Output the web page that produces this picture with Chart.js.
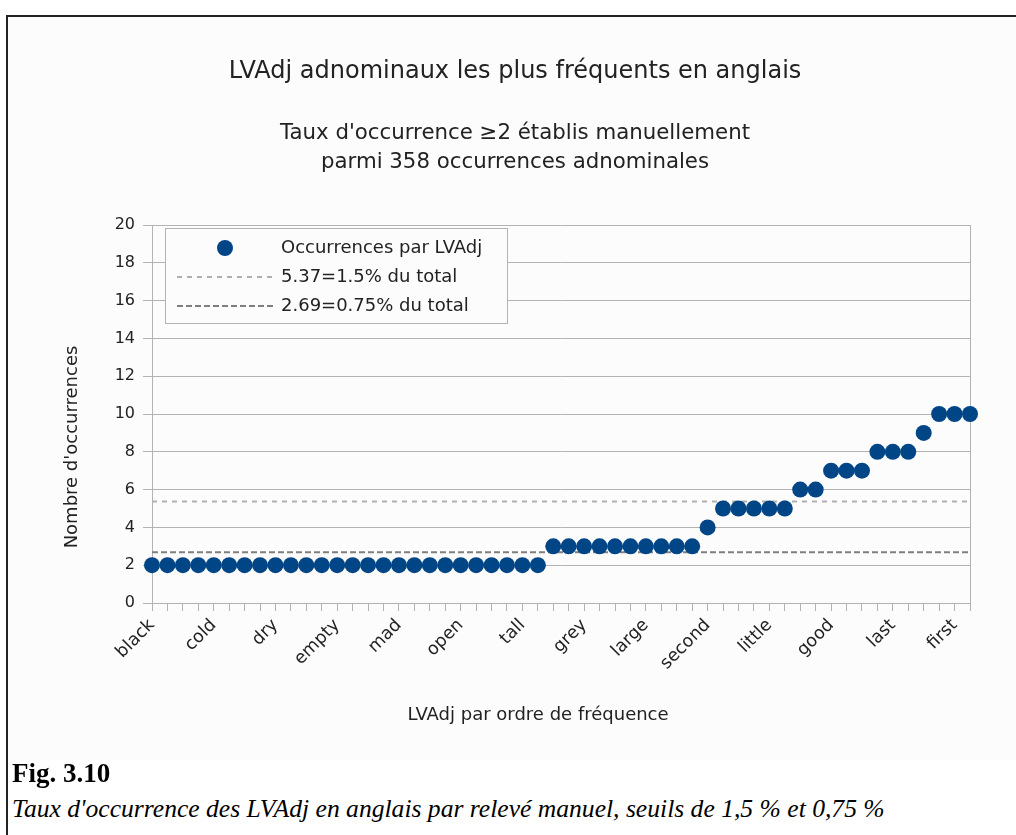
<!DOCTYPE html>
<html><head><meta charset="utf-8">
<script src="https://cdn.jsdelivr.net/npm/chart.js@4.4.1/dist/chart.umd.min.js"></script>
<style>
html,body{margin:0;padding:0;background:#fff;width:1016px;height:835px;overflow:hidden}
#frame{position:absolute;left:6px;top:15px;width:1100px;height:900px;border-left:2px solid #222;border-top:2px solid #222}
#bg{position:absolute;left:8px;top:17px;width:1008px;height:743px;background:#fcfcfc}
#c{position:absolute;left:0;top:0}
.cap{position:absolute;left:12px;font-family:"Liberation Serif","Times New Roman",serif;color:#000;white-space:nowrap}
#fig{top:758px;font-weight:bold;font-size:27px;line-height:30px}
#txt{top:794px;font-style:italic;font-size:25.6px;line-height:30px}
</style>
</head><body>
<div id="frame"></div>
<div id="bg"></div>
<canvas id="c" width="1030" height="760"></canvas>
<div class="cap" id="fig">Fig. 3.10</div>
<div class="cap" id="txt">Taux d'occurrence des LVAdj en anglais par relevé manuel, seuils de 1,5 % et 0,75 %</div>
<script>
// ---- data ----
const categories = [
  'black','','','',
  'cold','','','',
  'dry','','','',
  'empty','','','',
  'mad','','','',
  'open','','','',
  'tall','','','',
  'grey','','','',
  'large','','','',
  'second','','','',
  'little','','','',
  'good','','','',
  'last','','','',
  'first',''
];
const occurrences = [
  2,2,2,2,2,2,2,2,2,2,2,2,2,2,2,2,2,2,2,2,2,2,2,2,2,2,
  3,3,3,3,3,3,3,3,3,3,
  4,
  5,5,5,5,5,
  6,6,
  7,7,7,
  8,8,8,
  9,
  10,10,10
];
const threshold15 = 5.37;
const threshold075 = 2.69;
const seriesLabels = ['Occurrences par LVAdj', '5.37=1.5% du total', '2.69=0.75% du total'];
const chartTitle = 'LVAdj adnominaux les plus fréquents en anglais';
const chartSubtitle = ["Taux d'occurrence \u22652 établis manuellement", 'parmi 358 occurrences adnominales'];
const xTitle = 'LVAdj par ordre de fréquence';
const yTitle = "Nombre d'occurrences";
const yTicks = { min: 0, max: 20, step: 2 };

// ---- styles ----
const FONT = "'DejaVu Sans', sans-serif";
const TXT = '#222';
const GRID = '#b3b3b3';
const BLUE = '#004586';
const LIGHT = '#b0b0b0';
const DARK = '#7f7f7f';

Chart.defaults.font.family = FONT;
Chart.defaults.color = TXT;

const framePlugin = {
  id: 'frame',
  beforeDatasetsDraw(chart) {
    const { ctx, chartArea: a } = chart;
    ctx.save();
    ctx.strokeStyle = GRID;
    ctx.lineWidth = 1;
    ctx.beginPath();
    ctx.moveTo(Math.round(a.right) + 0.5, a.top);
    ctx.lineTo(Math.round(a.right) + 0.5, a.bottom);
    ctx.stroke();
    ctx.restore();
  }
};

const axisTitlePlugin = {
  id: 'axisTitles',
  afterDraw(chart) {
    const { ctx } = chart;
    ctx.save();
    ctx.fillStyle = TXT;
    ctx.font = '18px ' + FONT;
    ctx.textAlign = 'center';
    ctx.textBaseline = 'middle';
    ctx.fillText(xTitle, 538, 715);
    ctx.translate(72, 447);
    ctx.rotate(-Math.PI / 2);
    ctx.fillText(yTitle, 0, 0);
    ctx.restore();
  }
};

const legendPlugin = {
  id: 'boxLegend',
  afterDraw(chart) {
    const { ctx } = chart;
    const ds = chart.data.datasets;
    const bx = 165.5, by = 228.5, bw = 342, bh = 95;
    const rows = [248, 277, 306];
    ctx.save();
    ctx.fillStyle = '#fcfcfc';
    ctx.fillRect(bx, by, bw, bh);
    ctx.strokeStyle = GRID;
    ctx.lineWidth = 1;
    ctx.strokeRect(bx, by, bw, bh);
    ctx.fillStyle = ds[0].pointBackgroundColor;
    ctx.beginPath();
    ctx.arc(225, rows[0], 8, 0, Math.PI * 2);
    ctx.fill();
    for (let i = 1; i < 3; i++) {
      ctx.strokeStyle = ds[i].borderColor;
      ctx.lineWidth = ds[i].borderWidth;
      ctx.setLineDash(ds[i].borderDash);
      ctx.beginPath();
      ctx.moveTo(177, rows[i]);
      ctx.lineTo(274, rows[i]);
      ctx.stroke();
    }
    ctx.setLineDash([]);
    ctx.fillStyle = TXT;
    ctx.font = '18px ' + FONT;
    ctx.textAlign = 'left';
    ctx.textBaseline = 'middle';
    for (let i = 0; i < 3; i++) ctx.fillText(ds[i].label, 281, rows[i]);
    ctx.restore();
  }
};

new Chart(document.getElementById('c'), {
  type: 'line',
  data: {
    labels: categories,
    datasets: [
      {
        label: seriesLabels[0], data: occurrences, showLine: false,
        pointRadius: 8, pointHoverRadius: 8, pointBorderWidth: 0,
        pointBackgroundColor: BLUE, pointBorderColor: BLUE,
        backgroundColor: BLUE, borderColor: BLUE, clip: false, order: 0
      },
      {
        label: seriesLabels[1], data: categories.map(() => threshold15),
        borderColor: LIGHT, borderWidth: 2, borderDash: [5, 5], pointRadius: 0,
        fill: false, order: 1
      },
      {
        label: seriesLabels[2], data: categories.map(() => threshold075),
        borderColor: DARK, borderWidth: 2, borderDash: [6, 3], pointRadius: 0,
        fill: false, order: 2
      }
    ]
  },
  options: {
    responsive: false, animation: false, events: [],
    layout: { padding: 0 },
    plugins: {
      legend: { display: false },
      tooltip: { enabled: false },
      title: {
        display: true, text: chartTitle, color: TXT,
        font: { size: 24, weight: 'normal', lineHeight: 1.2 },
        padding: { top: 57.6, bottom: 0 }
      },
      subtitle: {
        display: true, text: chartSubtitle, color: TXT,
        font: { size: 21.3, weight: 'normal', lineHeight: 1.362 },
        padding: { top: 32.1, bottom: 48.5 }
      }
    },
    scales: {
      x: {
        offset: false,
        grid: { display: true, drawOnChartArea: false, drawTicks: true, tickLength: 8, color: GRID },
        border: { color: GRID },
        ticks: { autoSkip: false, minRotation: 45, maxRotation: 45, font: { size: 17.5 }, color: TXT, padding: 4 },
        afterFit(s) { s.height = 157; }
      },
      y: {
        min: yTicks.min, max: yTicks.max,
        ticks: { stepSize: yTicks.step, font: { size: 16 }, color: TXT, padding: 8 },
        grid: { color: GRID, tickLength: 9 },
        border: { color: GRID },
        afterFit(s) { s.width = 152; }
      },
      yRight: {
        position: 'right', display: true,
        ticks: { display: false }, grid: { display: false }, border: { display: false },
        afterFit(s) { s.width = 60; }
      }
    }
  },
  plugins: [framePlugin, axisTitlePlugin, legendPlugin]
});
</script>
</body></html>
